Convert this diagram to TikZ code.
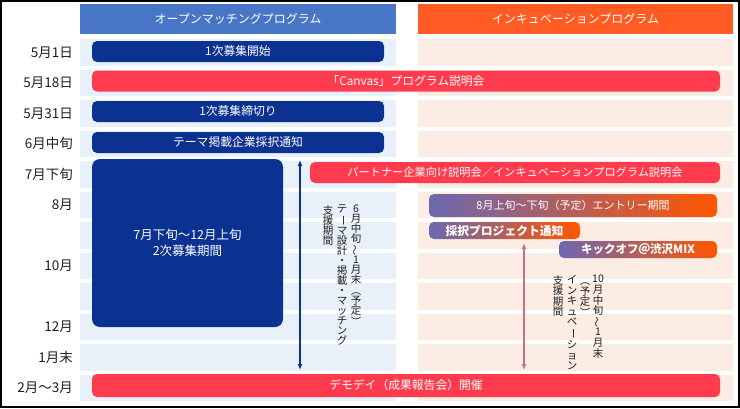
\documentclass[tikz,border=0pt]{standalone}
\usepackage{fontspec}
\setmainfont{Noto Sans CJK JP}
\usepackage{graphicx}
\usepackage{tikz}
\usetikzlibrary{arrows.meta}
\definecolor{navy}{RGB}{11,49,145}
\definecolor{barred}{RGB}{255,59,77}
\definecolor{headblue}{RGB}{72,117,197}
\definecolor{headorange}{RGB}{255,91,34}
\definecolor{rowblue}{RGB}{232,240,250}
\definecolor{rowpeach}{RGB}{251,237,228}
\definecolor{pinkarrow}{RGB}{200,112,140}
\definecolor{gradl}{RGB}{108,104,176}
\definecolor{gradr}{RGB}{255,85,0}
\definecolor{lbltext}{RGB}{30,30,30}
\newcommand{\vwave}{\rotatebox[origin=c]{90}{〜}}
\newcommand{\vbar}{\rotatebox[origin=c]{-90}{ー}}
\newcommand{\vlp}{\rotatebox[origin=c]{-90}{（}}
\newcommand{\vrp}{\rotatebox[origin=c]{-90}{）}}
\tikzstyle{head}=[minimum height=30pt,inner sep=0pt,text=white,font=\fontsize{12}{12}\selectfont]
\tikzstyle{rowbg}=[minimum height=26.5pt,inner sep=0pt]
\tikzstyle{bar}=[rounded corners=5pt,inner sep=0pt,minimum height=21pt,text=white,font=\fontsize{11.8}{14}\selectfont]
\tikzstyle{grad}=[bar,left color=gradl,right color=gradr]
\tikzstyle{lbl}=[anchor=east,inner sep=0pt,text=lbltext,font=\fontsize{13.5}{13.5}\selectfont]
\tikzstyle{vcol}=[anchor=north,inner sep=0pt,align=center,text=lbltext]

\begin{document}
\begin{tikzpicture}[x=1pt,y=-1pt]
        \useasboundingbox (0,0) rectangle (740,408);
        % headers
        \node at (238,19) [head,fill=headblue,minimum width=316pt] (hl) {オープンマッチングプログラム};
        \node at (575.5,19) [head,fill=headorange,minimum width=315pt] (hr) {インキュベーションプログラム};
        % row backgrounds
        \foreach \i in {1,...,12} {
          \node at (238,{52.25+(\i-1)*30.5}) [rowbg,fill=rowblue,minimum width=316pt] (lb\i) {};
          \node at (575.5,{52.25+(\i-1)*30.5}) [rowbg,fill=rowpeach,minimum width=315pt] (rb\i) {};
        }
        \foreach \i/\t in {1/5月1日,2/5月18日,3/5月31日,4/6月中旬,5/7月下旬,6/8月,8/10月,10/12月,11/1月末,12/2月〜3月}
          \node at (73,{52.25+(\i-1)*30.5}) [lbl] (d\i) {\t};
        % open matching
        \node at (238,51.5) [bar,fill=navy,minimum width=292pt] (s1) {1次募集開始};
        \node at (406,81) [bar,fill=barred,minimum width=628pt] (cv) {「Canvas」プログラム説明会};
        \node at (238,111.5) [bar,fill=navy,minimum width=292pt] (s2) {1次募集締切り};
        \node at (238,142.5) [bar,fill=navy,minimum width=292pt] (s3) {テーマ掲載企業採択通知};
        \node at (187.5,243) [bar,fill=navy,minimum width=191pt,minimum height=168pt,rounded corners=8pt,align=center,font=\fontsize{12.5}{15.5}\selectfont] (s4) {7月下旬〜12月上旬\\2次募集期間};
        % incubation
        \node at (515,172.5) [bar,fill=barred,minimum width=410pt,font=\fontsize{11.2}{13}\selectfont] (pt) {パートナー企業向け説明会／インキュベーションプログラム説明会};
        \node at (573,205.5) [grad,minimum width=288pt,minimum height=23pt,font=\fontsize{11}{13}\selectfont] (en) {8月上旬〜下旬（予定）エントリー期間};
        \node at (504.5,230.5) [grad,minimum width=151pt,minimum height=17pt,font=\fontsize{11.8}{13}\selectfont\bfseries] (sa) {採択プロジェクト通知};
        \node at (638,249.5) [grad,minimum width=158pt,minimum height=17pt,font=\fontsize{11.5}{13}\selectfont\bfseries] (ko) {キックオフ＠渋沢MIX};
        \node at (406,385.5) [bar,fill=barred,minimum width=628pt,minimum height=23pt] (dm) {デモデイ（成果報告会）開催};
        % support periods
        \coordinate (na) at (300,160);
        \coordinate (nb) at (300,370);
        \draw [{Latex[length=6pt,width=5pt]}-{Latex[length=6pt,width=5pt]},navy,line width=1.3pt] (na) -- (nb);
        \coordinate (pa) at (524,243);
        \coordinate (pb) at (524,370);
        \draw [{Latex[length=6pt,width=5pt]}-{Latex[length=6pt,width=5pt]},pinkarrow,line width=1.3pt] (pa) -- (pb);
        \node at (356,205) [vcol,font=\fontsize{10.5}{10}\selectfont] (v1) {6\\月\\中\\旬\\\vwave\\1\\月\\末\\\vlp\\予\\定\\\vrp};
        \node at (342,205) [vcol,font=\fontsize{10.5}{10}\selectfont] (v2) {テ\\\vbar\\マ\\設\\計\\・\\掲\\載\\・\\マ\\ッ\\チ\\ン\\グ};
        \node at (328,205) [vcol,font=\fontsize{10.5}{10}\selectfont] (v3) {支\\援\\期\\間};
        \node at (598,275) [vcol,font=\fontsize{10.5}{10.6}\selectfont] (w1) {10\\月\\中\\旬\\\vwave\\1\\月\\末};
        \node at (585,275) [vcol,font=\fontsize{10.5}{10.6}\selectfont] (w2) {\vlp\\予\\定\\\vrp};
        \node at (572,275) [vcol,font=\fontsize{10.5}{10.6}\selectfont] (w3) {イ\\ン\\キ\\ュ\\ベ\\\vbar\\シ\\ョ\\ン};
        \node at (558,275) [vcol,font=\fontsize{10.5}{10.6}\selectfont] (w4) {支\\援\\期\\間};
        % frame
        \draw [line width=2pt] (1,1) rectangle (739,407);
      \end{tikzpicture}
\end{document}
